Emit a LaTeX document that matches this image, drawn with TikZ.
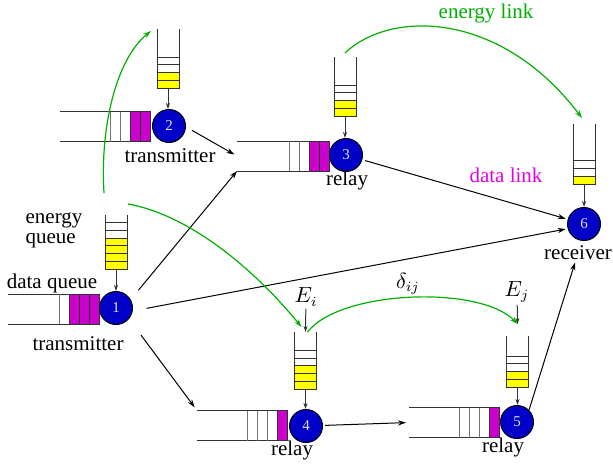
\documentclass[tikz,border=0pt]{standalone}
\usepackage{fontspec}
\setmainfont{Liberation Serif}
\usetikzlibrary{arrows.meta, positioning}
\definecolor{dq}{RGB}{204,0,204}
\definecolor{eq}{RGB}{255,255,0}
\definecolor{nodeblue}{RGB}{0,0,200}
\definecolor{egreen}{RGB}{0,176,0}
\definecolor{dlink}{RGB}{230,0,230}

% data queue: name, left x, right x, mid y, white cells, magenta cells
\newcommand{\dataqueue}[6]{
    \draw[qline] (#2,#4-15) -- (#3,#4-15) -- (#3,#4+15) -- (#2,#4+15);
    \foreach \k in {1,...,#6}
        \draw[qline, fill=dq] (#3-10*\k+10,#4-15) rectangle (#3-10*\k,#4+15);
    \foreach \k in {1,...,#5}
        \draw[qdiv] (#3-10*#6-10*\k,#4-15) -- (#3-10*#6-10*\k,#4+15);
    \coordinate (#1w) at (#2,#4);
    \coordinate (#1nw) at (#2,#4-15);
    \coordinate (#1sw) at (#2,#4+15);
}
% energy queue: name, mid x, top y, bottom y, white cells, yellow cells
\newcommand{\energyqueue}[6]{
    \draw[qline] (#2-11,#3) -- (#2-11,#4) -- (#2+11,#4) -- (#2+11,#3);
    \foreach \k in {1,...,#6}
        \draw[qline, fill=eq] (#2-11,#4-7.7*\k+7.7) rectangle (#2+11,#4-7.7*\k);
    \foreach \k in {1,...,#5}
        \draw[qline] (#2-11,#4-7.7*#6-7.7*\k) -- (#2+11,#4-7.7*#6-7.7*\k);
    \coordinate (#1t) at (#2,#3);
    \coordinate (#1b) at (#2,#4);
}

\begin{document}
\begin{tikzpicture}[x=0.5pt, y=-0.5pt,
        qline/.style={draw=black!80, line width=0.5pt},
        qdiv/.style={draw=black!55, line width=0.5pt},
        station/.style={circle, draw, line width=0.5pt, fill=nodeblue, text=white!90!blue, minimum size=16.5pt, inner sep=0pt, font=\fontsize{7.5}{8}\selectfont},
        lbl/.style={font=\fontsize{10.5}{10}\selectfont, inner sep=1pt},
        arrow/.style={-{Stealth[length=4pt, width=2.6pt]}, line width=0.5pt},
        feed/.style={-{Stealth[length=3pt, width=2pt]}, line width=0.5pt, draw=black!80},
        elink/.style={-{Stealth[length=4pt, width=2.6pt]}, line width=0.6pt, draw=egreen}
    ]
        \useasboundingbox (0,0) rectangle (613,463);

        % Queues
        \dataqueue{q1}{8}{99}{309}{1}{3}
        \dataqueue{q2}{60}{150}{126.5}{2}{2}
        \dataqueue{q3}{237}{329}{156}{2}{2}
        \dataqueue{q4}{197}{287}{425.5}{3}{1}
        \dataqueue{q5}{409}{499}{422.5}{3}{1}

        \energyqueue{e1}{116}{215}{269}{2}{4}
        \energyqueue{e2}{168}{29}{88}{2}{2}
        \energyqueue{e3}{345}{57}{116}{2}{2}
        \energyqueue{e4}{305.5}{332}{389}{2}{3}
        \energyqueue{e5}{517.5}{336}{387}{2}{2}
        \energyqueue{e6}{584}{124}{184}{2}{1}

        % Stations
        \node[station] (n1) at (116,308) {1};
        \node[station] (n2) at (169,126) {2};
        \node[station] (n3) at (346,155) {3};
        \node[station] (n4) at (306,426) {4};
        \node[station] (n5) at (517,422) {5};
        \node[station] (n6) at (584,224) {6};

        % Labels
        \node[lbl] (t1) at (78,344) {transmitter};
        \node[lbl] (t2) at (170,156) {transmitter};
        \node[lbl] (r3) at (347,180) {relay};
        \node[lbl] (rx) at (578,253) {receiver};
        \node[lbl] (r4) at (292,450) {relay};
        \node[lbl] (r5) at (503,447) {relay};
        \node[lbl, align=left] (eql) at (54,230) {energy\\queue};
        \node[lbl] (dql) at (52,283) {data queue};
        \node[lbl, text=egreen] (elk) at (486,13) {energy link};
        \node[lbl, text=dlink] (dlk) at (506,175) {data link};
        \node[lbl] (Ei) at (306,297) {$E_i$};
        \node[lbl] (Ej) at (517,292) {$E_j$};
        \node[lbl] (dij) at (408,284) {$\delta_{ij}$};

        % Energy into stations
        \foreach \i in {1,...,6}
            \draw[feed] (e\i b) -- (e\i b |- n\i.north);
        \draw[feed] (Ei) -- (e4t);
        \draw[feed] (Ej) -- ([yshift=6pt]e5t);

        % Data links
        \draw[arrow, shorten <=6pt] (n1.30) -- (q3sw);
        \draw[arrow, shorten <=3.5pt, shorten >=1.5pt] (n2.-3) -- (q3w);
        \draw[arrow, shorten <=1.5pt, shorten >=1pt] (n3) -- (n6);
        \draw[arrow, shorten <=7pt, shorten >=1pt] (n1.-10) -- (n6.196);
        \draw[arrow, shorten <=10pt, shorten >=2pt] (n1.-40) -- (q4nw);
        \draw[arrow, shorten <=1pt, shorten >=1.5pt] (n4) -- (q5w);
        \draw[arrow] (n5.45) -- (rx);

        % Energy links
        \coordinate (g1a) at (104,193);
        \coordinate (g2a) at (128,204);
        \draw[elink] (g1a) .. controls (100,130) and (115,60) .. (151,31);
        \draw[elink] (g2a) .. controls (190,215) and (255,270) .. ([shift={(-2pt,2.5pt)}]e4t);
        \draw[elink] ([xshift=1pt]e4t) .. controls (340,290) and (480,285) .. ([yshift=6pt]e5t);
        \draw[elink] ([yshift=2pt]e3t) .. controls (390,10) and (500,10) .. ([shift={(-1pt,3pt)}]e6t);
    \end{tikzpicture}
\end{document}
